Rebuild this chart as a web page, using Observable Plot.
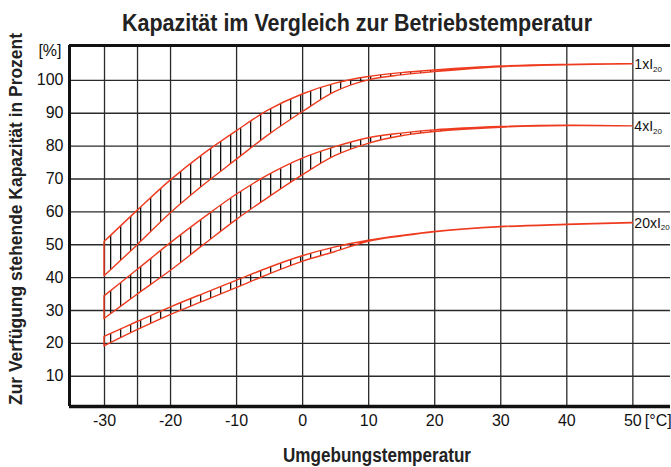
<!DOCTYPE html>
<html><head><meta charset="utf-8">
<script src="https://cdn.jsdelivr.net/npm/d3@7"></script>
<script src="https://cdn.jsdelivr.net/npm/@observablehq/plot@0.6"></script>
<style>
body{margin:0;background:#fff;}
svg{display:block}
</style>
</head><body><div id="chart"></div>
<script>
// ---- data ----
const temps  = [-30, -25, -20, -15, -10, -5, 0, 5, 10, 15, 20, 30, 40, 50];
const upper1 = [50.8, 60.3, 69.5, 77.5, 84.5, 91.0, 95.7, 99.0, 101.0, 102.2, 103.0, 104.2, 104.7, 104.9];
const lower1 = [40.4, 49.8, 59.5, 68.0, 75.8, 83.5, 90.3, 96.5, 100.0, 101.5, 102.5, 104.0, 104.6, 104.9];
const upper2 = [34.3, 42.3, 50.4, 58.0, 65.2, 71.3, 76.2, 79.7, 82.4, 83.8, 84.8, 85.8, 86.2, 86.0];
const lower2 = [27.4, 34.8, 42.0, 49.8, 57.5, 64.5, 71.1, 77.0, 80.7, 83.0, 84.3, 85.6, 86.1, 86.0];
const upper3 = [22.0, 26.5, 30.9, 35.0, 39.0, 43.0, 46.5, 49.2, 51.2, 52.7, 53.9, 55.4, 56.1, 56.6];
const lower3 = [19.1, 24.0, 28.6, 32.7, 36.8, 41.0, 44.8, 47.8, 50.9, 52.5, 53.8, 55.3, 56.0, 56.5];
const seriesNames = ["1xI", "4xI", "20xI"];
const seriesSub = "20";
const xTicks = [-30, -20, -10, 0, 10, 20, 30, 40, 50];
const xGrid  = [-30, -25, -20, -10, 0, 10, 20, 30, 40, 50];
const yTicks = [10, 20, 30, 40, 50, 60, 70, 80, 90, 100];
const xDomain = [-35.3, 55.7];
const yDomain = [0.8, 110.6];
const title = "Kapazität im Vergleich zur Betriebstemperatur";
const xLabel = "Umgebungstemperatur";
const yLabel = "Zur Verfügung stehende Kapazität in Prozent";
const yUnit = "[%]";
const xUnit = "[°C]";

// ---- build ----
const uppers = [upper1, upper2, upper3];
const lowers = [lower1, lower2, lower3];
const rows = seriesNames.flatMap((name, k) =>
  temps.map((t, i) => ({band: name, t, lo: lowers[k][i], hi: uppers[k][i]})));
const labels = seriesNames.map((name, k) => ({name, t: temps[temps.length - 1], v: uppers[k][uppers[k].length - 1]}));

const RED = "#ee3b1f";
const GRID = "#2a2a2a";
const condensed = "'Liberation Sans Narrow', 'Liberation Sans', Arial, sans-serif";

const chart = Plot.plot({
  width: 671,
  height: 467,
  marginLeft: 69,
  marginRight: 1,
  marginTop: 45,
  marginBottom: 61,
  style: {fontFamily: "'Liberation Sans', Arial, sans-serif", fontSize: "16px", color: "#111", background: "#fff"},
  x: {domain: xDomain, ticks: xTicks, tickSize: 0, tickPadding: 8, label: null, tickFormat: d => String(d)},
  y: {domain: yDomain, ticks: yTicks, tickSize: 0, tickPadding: 6, label: null, tickFormat: d => String(d)},
  marks: [
    Plot.ruleX(xGrid, {stroke: GRID, strokeWidth: 1.3}),
    Plot.ruleY(yTicks, {stroke: GRID, strokeWidth: 1.3}),
    Plot.areaY(rows, {x: "t", y1: "lo", y2: "hi", z: "band", fill: "url(#hatch)", stroke: RED, strokeWidth: 1.4, curve: "catmull-rom"}),
    Plot.ruleX([xDomain[0]], {stroke: "#111", strokeWidth: 3}),
    Plot.ruleY([yDomain[0]], {stroke: "#111", strokeWidth: 3.5}),
    Plot.ruleY([yDomain[1]], {stroke: "#111", strokeWidth: 3}),
    Plot.text(labels, {x: "t", y: "v", text: "name", dx: 1.5, textAnchor: "start", fontSize: 14, fill: "#111", className: "serieslabel"}),
    Plot.text([yUnit], {frameAnchor: "top-left", dx: -8, dy: 5, textAnchor: "end", lineAnchor: "middle", fontSize: 16, fill: "#111"}),
    Plot.text([xTicks[xTicks.length - 1]], {x: d => d, text: () => xUnit, frameAnchor: "bottom", dx: 12, dy: 8, lineAnchor: "top", textAnchor: "start", fontSize: 16, fill: "#111"}),
    Plot.text([title], {frameAnchor: "top", dx: -13, dy: -22, textAnchor: "middle", lineAnchor: "middle", fontSize: 24, fontWeight: "bold", fill: "#222", fontFamily: condensed, className: "squeeze-title"}),
    Plot.text([xLabel], {frameAnchor: "bottom", dx: 7, dy: 49, textAnchor: "middle", lineAnchor: "middle", fontSize: 20, fontWeight: "bold", fill: "#222", fontFamily: condensed, className: "squeeze-xlabel"}),
    Plot.text([yLabel], {frameAnchor: "left", dx: -53, dy: -7, rotate: -90, textAnchor: "middle", lineAnchor: "middle", fontSize: 18, fontWeight: "bold", fill: "#222", fontFamily: condensed, className: "squeeze-ylabel"})
  ]
});

const svg = d3.select(chart);
svg.insert("defs", ":first-child").html(
  '<pattern id="hatch" patternUnits="userSpaceOnUse" width="10" height="10">' +
  '<rect x="0" y="0" width="1.3" height="10" fill="#111"/></pattern>');
svg.selectAll(".serieslabel text").each(function() {
  d3.select(this).append("tspan").attr("font-size", 8).attr("dy", "0.35em").text(seriesSub);
});
// condensed look for the bold headings
[["squeeze-title", 470], ["squeeze-xlabel", 188], ["squeeze-ylabel", 372]].forEach(([cls, len]) => {
  svg.selectAll("." + cls + " text").attr("textLength", len).attr("lengthAdjust", "spacingAndGlyphs");
});
document.getElementById("chart").appendChild(chart);
</script>
</body></html>
